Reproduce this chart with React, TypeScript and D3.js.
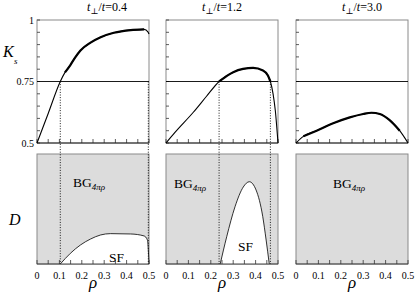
import React from "react";
import * as d3 from "d3";

// ---- data ----
const titles = ["0.4", "1.2", "3.0"];

const rho1 = [0, 0.05, 0.104, 0.125, 0.149, 0.17, 0.194, 0.239, 0.284, 0.343, 0.418, 0.478, 0.496, 0.5];
const ks1 = [0.5, 0.62, 0.75, 0.787, 0.817, 0.847, 0.876, 0.908, 0.93, 0.948, 0.959, 0.962, 0.951, 0.943];

const rho2 = [0, 0.04, 0.122, 0.181, 0.237, 0.3, 0.344, 0.389, 0.433, 0.455, 0.466, 0.478, 0.488, 0.5];
const ks2 = [0.5, 0.543, 0.625, 0.69, 0.75, 0.788, 0.801, 0.805, 0.795, 0.774, 0.75, 0.7, 0.632, 0.5];

const rho3 = [0, 0.033, 0.092, 0.166, 0.24, 0.3, 0.337, 0.374, 0.418, 0.463, 0.5];
const ks3 = [0.5, 0.527, 0.55, 0.58, 0.604, 0.618, 0.623, 0.618, 0.593, 0.55, 0.5];

const sfRho1 = [0.104, 0.149, 0.194, 0.239, 0.284, 0.328, 0.418, 0.478, 0.493, 0.497, 0.5];
const sfD1 = [0, 0.097, 0.173, 0.227, 0.264, 0.276, 0.273, 0.255, 0.218, 0.127, 0];

const sfRho2 = [0.242, 0.271, 0.308, 0.345, 0.372, 0.402, 0.432, 0.447, 0.461];
const sfD2 = [0, 0.248, 0.52, 0.7, 0.748, 0.673, 0.43, 0.218, 0];

const crossings = [[0.104, 0.497], [0.237, 0.466], []];
const thickRanges = [[0.125, 0.49], [0.237, 0.47], [0.03, 0.47]];

const yTickLabels = ["0.5", "0.75", "1"];
const yTickValues = [0.5, 0.75, 1];
const xTickLabels = ["0", "0.1", "0.2", "0.3", "0.4", "0.5"];
const xTickValues = [0, 0.1, 0.2, 0.3, 0.4, 0.5];

const curves = [
  { rho: rho1, ks: ks1 },
  { rho: rho2, ks: ks2 },
  { rho: rho3, ks: ks3 },
];
const sfs = [
  { rho: sfRho1, d: sfD1 },
  { rho: sfRho2, d: sfD2 },
  null,
];

// ---- layout ----
const W = 415, H = 293;
const panelLeft = [37, 166, 296];
const panelW = 112;
const topY0 = 20, topY1 = 143;
const botY0 = 154, botY1 = 264;
const titleX = [107, 222, 362];
const bgPos = [[73, 187], [174, 188], [333, 188]];
const sfPos = [[109, 262], [238, 251]];
const serif = "'Liberation Serif', 'DejaVu Serif', serif";

export default function App() {
  const yTop = d3.scaleLinear().domain([0.5, 1]).range([topY1, topY0]);
  const yBot = d3.scaleLinear().domain([0, 1]).range([botY1, botY0]);
  const minor = d3.range(0, 11).map((i) => i * 0.05);
  const yMinor = d3.range(0, 11).map((i) => 0.5 + i * 0.05);

  return (
    <svg width={W} height={H} style={{ position: "fixed", left: 0, top: 0, background: "#fff" }} fontFamily={serif}>
      {/* left labels */}
      <text x={3} y={57} fontSize={16} fontStyle="italic">K</text>
      <text x={14} y={64} fontSize={9} fontStyle="italic">s</text>
      <text x={9} y={225} fontSize={16} fontStyle="italic">D</text>
      {yTickValues.map((v, i) => (
        <text key={i} x={34} y={yTop(v) + 3.5} fontSize={10} textAnchor="end">{yTickLabels[i]}</text>
      ))}

      {curves.map((c, p) => {
        const x = d3.scaleLinear().domain([0, 0.5]).range([panelLeft[p], panelLeft[p] + panelW]);
        const pts: [number, number][] = c.rho.map((r, i) => [r, c.ks[i]]);
        const line = d3.line<[number, number]>().x((d) => x(d[0])).y((d) => yTop(d[1])).curve(d3.curveMonotoneX);
        const [ta, tb] = thickRanges[p];
        const thickPts = pts.filter((d) => d[0] >= ta && d[0] <= tb);
        const sf = sfs[p];
        const sfPts: [number, number][] = sf ? sf.rho.map((r, i) => [r, sf.d[i]]) : [];
        const area = d3.area<[number, number]>().x((d) => x(d[0])).y0(botY1).y1((d) => yBot(d[1])).curve(d3.curveMonotoneX);
        const sfLine = d3.line<[number, number]>().x((d) => x(d[0])).y((d) => yBot(d[1])).curve(d3.curveMonotoneX);
        const cx = panelLeft[p] + panelW / 2;
        return (
          <g key={p}>
            {/* title */}
            <text x={titleX[p]} y={11} fontSize={12} textAnchor="middle">
              <tspan fontStyle="italic">t</tspan>
              <tspan fontSize={8.5} dy={3}>⊥</tspan>
              <tspan dy={-3}>/</tspan>
              <tspan fontStyle="italic">t</tspan>
              <tspan>={titles[p]}</tspan>
            </text>

            {/* top panel */}
            <rect x={panelLeft[p]} y={topY0} width={panelW} height={topY1 - topY0} fill="none" stroke="#8a8a8a" strokeWidth={1} />
            {yMinor.map((v, i) => (
              <line key={"yt" + i} x1={panelLeft[p]} x2={panelLeft[p] + 3} y1={yTop(v)} y2={yTop(v)} stroke="#333" strokeWidth={0.8} />
            ))}
            {minor.map((v, i) => (
              <line key={"xt" + i} x1={x(v)} x2={x(v)} y1={topY1} y2={topY1 - 4} stroke="#333" strokeWidth={0.8} />
            ))}
            <line x1={panelLeft[p]} x2={panelLeft[p] + panelW} y1={topY1} y2={topY1} stroke="#222" strokeWidth={1} />
            <line x1={panelLeft[p]} x2={panelLeft[p] + panelW} y1={yTop(0.75)} y2={yTop(0.75)} stroke="#000" strokeWidth={0.9} />
            <path d={line(pts) || ""} fill="none" stroke="#000" strokeWidth={1.1} />
            <path d={line(thickPts) || ""} fill="none" stroke="#000" strokeWidth={2.2} />

            {/* bottom panel */}
            <rect x={panelLeft[p]} y={botY0} width={panelW} height={botY1 - botY0} fill="#dcdcdc" stroke="#8a8a8a" strokeWidth={1} />
            {sf && <path d={area(sfPts) || ""} fill="#fff" stroke="none" />}
            {sf && <path d={sfLine(sfPts) || ""} fill="none" stroke="#000" strokeWidth={0.8} />}
            <line x1={panelLeft[p]} x2={panelLeft[p] + panelW} y1={botY1} y2={botY1} stroke="#444" strokeWidth={1} />
            {minor.map((v, i) => (
              <line key={"bt" + i} x1={x(v)} x2={x(v)} y1={botY1} y2={botY1 - 4} stroke="#333" strokeWidth={0.8} />
            ))}
            {xTickValues.map((v, i) => (
              <text key={"bl" + i} x={x(v)} y={278.5} fontSize={10} textAnchor="middle">{xTickLabels[i]}</text>
            ))}
            <text x={cx} y={288} fontSize={17} fontStyle="italic" textAnchor="middle">ρ</text>

            {/* dotted lines */}
            {crossings[p].map((r, i) => (
              <line key={"dl" + i} x1={x(r)} x2={x(r)} y1={yTop(0.75)} y2={botY1} stroke="#000" strokeWidth={0.9} strokeDasharray="1,1.6" />
            ))}

            {/* labels */}
            <text x={bgPos[p][0]} y={bgPos[p][1]} fontSize={13.5}>
              BG<tspan fontSize={9} dy={2.5} fontStyle="italic">4πρ</tspan>
            </text>
            {p < 2 && <text x={sfPos[p][0]} y={sfPos[p][1]} fontSize={13.5}>SF</text>}
          </g>
        );
      })}
    </svg>
  );
}
